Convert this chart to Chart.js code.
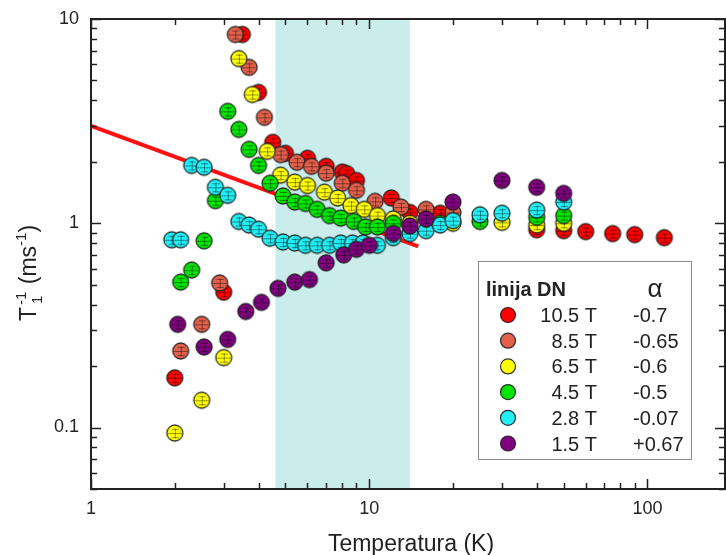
<!DOCTYPE html>
<html>
<head>
<meta charset="utf-8">
<script src="https://cdn.jsdelivr.net/npm/chart.js@4.4.0/dist/chart.umd.min.js"></script>
<style>
  html, body { margin: 0; padding: 0; background: #fff; }
</style>
</head>
<body>
<canvas id="chart" width="726" height="555"></canvas>
<script>
// 10.5 T
const t105 = [2, 3, 3.5, 4, 4.5, 5, 6, 7, 8, 8.3, 9, 12, 14, 18, 40, 50, 60, 75, 90, 115];
const r105 = [0.175, 0.46, 8.4, 4.37, 2.49, 2.2, 2.08, 1.9, 1.78, 1.75, 1.62, 1.33, 1.13, 1.12, 0.93, 0.92, 0.91, 0.89, 0.88, 0.85];
// 8.5 T
const t85 = [2.1, 2.5, 2.9, 3.3, 3.7, 4.2, 4.8, 5.5, 6.2, 7, 8, 9, 10.5, 13, 16, 20];
const r85 = [0.237, 0.32, 0.51, 8.4, 5.8, 3.3, 2.17, 1.99, 1.9, 1.76, 1.57, 1.45, 1.28, 1.2, 1.17, 1.13];
// 6.5 T
const t65 = [2, 2.5, 3, 3.4, 3.8, 4.3, 4.8, 5.4, 6, 6.9, 7.7, 8.6, 9.6, 10.7, 12.2, 14, 20, 30, 40, 50];
const r65 = [0.094, 0.136, 0.22, 6.4, 4.27, 2.25, 1.72, 1.59, 1.53, 1.42, 1.33, 1.22, 1.17, 1.09, 1.05, 1.0, 1.0, 1.01, 0.98, 1.0];
// 4.5 T
const t45 = [2.1, 2.3, 2.55, 2.8, 3.1, 3.4, 3.7, 4.0, 4.4, 4.9, 5.4, 5.9, 6.5, 7.2, 7.9, 8.8, 9.7, 10.7, 12.2, 18, 25, 40, 50];
const r45 = [0.515, 0.59, 0.82, 1.29, 3.53, 2.88, 2.3, 1.92, 1.57, 1.36, 1.27, 1.25, 1.17, 1.09, 1.06, 1.02, 0.96, 0.96, 1.0, 1.0, 1.02, 1.07, 1.09];
// 2.8 T
const t28 = [1.95, 2.1, 2.3, 2.55, 2.8, 3.1, 3.4, 3.7, 4.0, 4.4, 4.9, 5.4, 5.9, 6.5, 7.2, 7.9, 8.7, 9.5, 10.7, 12.2, 14, 16, 18, 20, 25, 30, 40, 50];
const r28 = [0.83, 0.83, 1.92, 1.88, 1.5, 1.37, 1.02, 0.98, 0.935, 0.845, 0.81, 0.8, 0.78, 0.78, 0.78, 0.8, 0.8, 0.8, 0.78, 0.85, 0.89, 0.92, 0.98, 1.03, 1.1, 1.12, 1.16, 1.27];
// 1.5 T
const t15 = [2.05, 2.55, 3.1, 3.6, 4.1, 4.7, 5.4, 6.1, 7, 8.1, 9, 10, 12.2, 14, 16, 20, 30, 40, 50];
const r15 = [0.32, 0.248, 0.27, 0.37, 0.41, 0.48, 0.515, 0.53, 0.64, 0.7, 0.746, 0.78, 0.89, 0.97, 1.05, 1.27, 1.62, 1.5, 1.4];

// red guide line ~ T^-0.5
const fitT = [1, 15];
const fitR = [3, 0.77];

// shaded temperature window
const bandT = [4.6, 14];

const fieldLabels = ['10.5 T', '8.5 T', '6.5 T', '4.5 T', '2.8 T', '1.5 T'];
const alphaLabels = ['-0.7', '-0.65', '-0.6', '-0.5', '-0.07', '+0.67'];
const seriesColors = ['#ff0000', '#e2604a', '#ffff00', '#00e600', '#22eef5', '#800080'];

const seriesT = [t105, t85, t65, t45, t28, t15];
const seriesR = [r105, r85, r65, r45, r28, r15];

const FONT = '"Liberation Sans", Arial, sans-serif';
const INK = '#222';

function makeMarker(fill) {
  const c = document.createElement('canvas');
  c.width = 20; c.height = 20;
  const g = c.getContext('2d');
  g.beginPath();
  g.arc(10, 10, 8, 0, Math.PI * 2);
  g.fillStyle = fill;
  g.fill();
  g.lineWidth = 1.3;
  g.strokeStyle = 'rgba(30,30,30,0.9)';
  g.stroke();
  // little error bar inside each marker
  g.strokeStyle = 'rgba(0,0,0,0.4)';
  g.lineWidth = 1;
  g.beginPath();
  g.moveTo(3, 10.5); g.lineTo(17, 10.5);
  g.moveTo(10.5, 5.5); g.lineTo(10.5, 15.5);
  g.moveTo(7, 6.5); g.lineTo(14, 6.5);
  g.moveTo(7, 14.5); g.lineTo(14, 14.5);
  g.stroke();
  return c;
}

const datasets = seriesT.map((ts, i) => ({
  label: fieldLabels[i],
  data: ts.map((t, j) => ({ x: t, y: seriesR[i][j] })),
  pointStyle: makeMarker(seriesColors[i]),
  showLine: false,
  order: seriesT.length - i,
}));

datasets.push({
  type: 'line',
  label: 'fit',
  data: fitT.map((t, j) => ({ x: t, y: fitR[j] })),
  borderColor: '#ff1010',
  borderWidth: 4,
  pointRadius: 0,
  showLine: true,
  order: 20,
});

const bandPlugin = {
  id: 'band',
  beforeDatasetsDraw(chart) {
    const { ctx, chartArea: a, scales: { x } } = chart;
    const x0 = x.getPixelForValue(bandT[0]);
    const x1 = x.getPixelForValue(bandT[1]);
    ctx.save();
    ctx.fillStyle = 'rgb(202,237,235)';
    ctx.fillRect(x0, a.top, x1 - x0, a.bottom - a.top);
    ctx.restore();
  },
};

const framePlugin = {
  id: 'frame',
  afterDatasetsDraw(chart) {
    const { ctx, chartArea: a, scales: { x, y } } = chart;
    ctx.save();
    ctx.strokeStyle = INK;
    ctx.lineWidth = 1.5;
    ctx.beginPath();
    for (let d = 1; d <= 1000; d *= 10) {
      for (let m = 1; m <= 9; m++) {
        const v = m * d;
        if (v < x.min || v > x.max) continue;
        const px = Math.round(x.getPixelForValue(v)) + 0.5;
        const len = m === 1 ? 10 : 6;
        ctx.moveTo(px, a.bottom); ctx.lineTo(px, a.bottom - len);
        ctx.moveTo(px, a.top); ctx.lineTo(px, a.top + len);
      }
    }
    for (let d = 0.01; d <= 10; d *= 10) {
      for (let m = 1; m <= 9; m++) {
        const v = m * d;
        if (v < y.min * 0.999 || v > y.max * 1.001) continue;
        const py = Math.round(y.getPixelForValue(v)) + 0.5;
        const len = m === 1 ? 10 : 6;
        ctx.moveTo(a.left, py); ctx.lineTo(a.left + len, py);
        ctx.moveTo(a.right, py); ctx.lineTo(a.right - len, py);
      }
    }
    ctx.stroke();
    ctx.lineWidth = 2;
    ctx.strokeRect(a.left, a.top, a.right - a.left, a.bottom - a.top);
    ctx.restore();
  },
};

const titlesPlugin = {
  id: 'titles',
  afterDraw(chart) {
    const { ctx } = chart;
    ctx.save();
    ctx.fillStyle = INK;
    ctx.font = '23px ' + FONT;
    ctx.textAlign = 'center';
    ctx.textBaseline = 'alphabetic';
    ctx.fillText('Temperatura (K)', 411, 551);

    // y title: T_1^-1 (ms^-1)
    const big = '23px ' + FONT;
    const small = '15px ' + FONT;
    const parts = [
      { s: 'T', f: big, dy: 0 },
      { s: '1', f: small, dy: 6, stackWith: '-1' },
      { s: ' (ms', f: big, dy: 0 },
      { s: '-1', f: small, dy: -10 },
      { s: ')', f: big, dy: 0 },
    ];
    let total = 0;
    parts.forEach(p => {
      ctx.font = p.f;
      let w = ctx.measureText(p.s).width;
      if (p.stackWith) w = Math.max(w, ctx.measureText(p.stackWith).width) + 3;
      p.w = w;
      total += w;
    });
    ctx.translate(36, 273);
    ctx.rotate(-Math.PI / 2);
    ctx.textAlign = 'left';
    let cx = -total / 2;
    parts.forEach(p => {
      ctx.font = p.f;
      if (p.stackWith) {
        ctx.fillText(p.s, cx + 3, p.dy);
        ctx.fillText(p.stackWith, cx + 2, -10);
      } else {
        ctx.fillText(p.s, cx, p.dy);
      }
      cx += p.w;
    });
    ctx.restore();
  },
};

const legendPlugin = {
  id: 'boxLegend',
  afterDraw(chart) {
    const { ctx } = chart;
    ctx.save();
    ctx.fillStyle = '#fff';
    ctx.fillRect(478, 261, 213, 198);
    ctx.strokeStyle = '#8a8a8a';
    ctx.lineWidth = 1;
    ctx.strokeRect(478.5, 261.5, 213, 198);

    ctx.fillStyle = INK;
    ctx.textBaseline = 'alphabetic';
    ctx.font = 'bold 20px ' + FONT;
    ctx.textAlign = 'left';
    ctx.fillText('linija DN', 486, 296);
    ctx.font = '26px ' + FONT;
    ctx.textAlign = 'center';
    ctx.fillText('\u03b1', 655, 297);

    ctx.font = '20px ' + FONT;
    fieldLabels.forEach((lab, i) => {
      const cy = 315 + i * 25.7;
      ctx.beginPath();
      ctx.arc(508, cy, 7.5, 0, Math.PI * 2);
      ctx.fillStyle = seriesColors[i];
      ctx.fill();
      ctx.strokeStyle = 'rgba(30,30,30,0.9)';
      ctx.lineWidth = 1.2;
      ctx.stroke();
      ctx.fillStyle = INK;
      ctx.textAlign = 'right';
      ctx.fillText(lab, 597, cy + 7);
      ctx.textAlign = 'left';
      ctx.fillText(alphaLabels[i], 633, cy + 7);
    });
    ctx.restore();
  },
};

function decadeLabel(v) {
  const l = Math.log10(v);
  if (Math.abs(l - Math.round(l)) > 1e-6) return '';
  return v >= 1 ? String(Math.round(v)) : v.toFixed(1);
}

function noPad(s) {
  s.paddingLeft = 0;
  s.paddingRight = 0;
  s.paddingTop = 0;
  s.paddingBottom = 0;
}

new Chart(document.getElementById('chart'), {
  type: 'scatter',
  data: { datasets },
  options: {
    responsive: false,
    animation: false,
    layout: { autoPadding: false, padding: { top: 19, right: 1, left: 0, bottom: 0 } },
    plugins: {
      legend: { display: false },
      tooltip: { enabled: false },
    },
    scales: {
      x: {
        type: 'logarithmic',
        min: 1,
        max: 190,
        grid: { display: false, drawTicks: false },
        border: { display: false },
        ticks: {
          autoSkip: false,
          maxRotation: 0,
          padding: 9,
          color: INK,
          font: { family: FONT, size: 18 },
          callback: decadeLabel,
        },
        afterFit(s) { s.height = 66; noPad(s); },
      },
      y: {
        type: 'logarithmic',
        min: 0.05,
        max: 10,
        grid: { display: false, drawTicks: false },
        border: { display: false },
        ticks: {
          autoSkip: false,
          padding: 12,
          color: INK,
          font: { family: FONT, size: 18 },
          callback: decadeLabel,
        },
        afterFit(s) { s.width = 91; noPad(s); },
      },
    },
  },
  plugins: [bandPlugin, framePlugin, titlesPlugin, legendPlugin],
});
</script>
</body>
</html>
